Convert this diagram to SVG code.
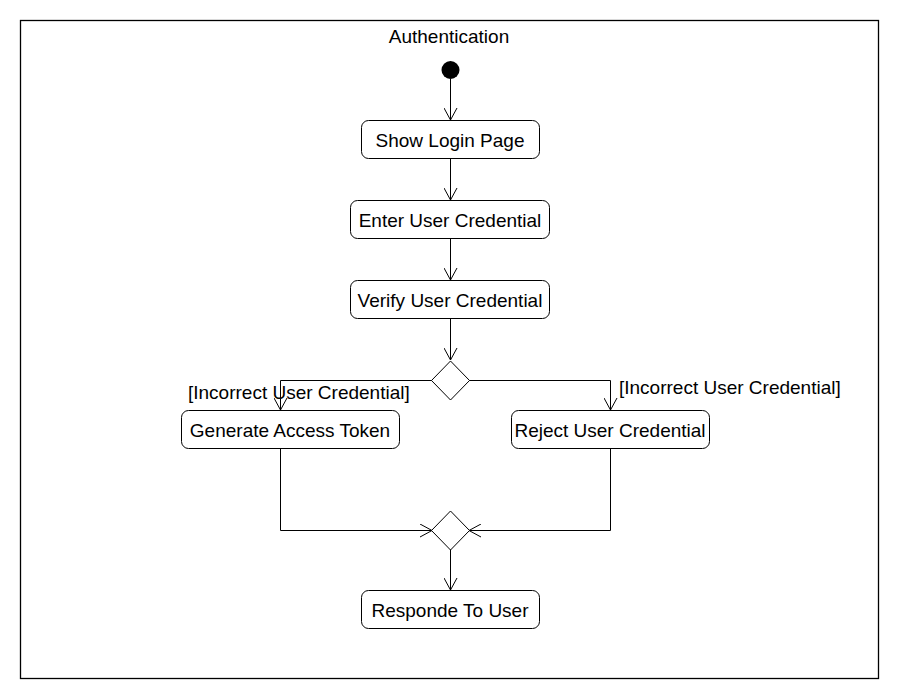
<svg xmlns="http://www.w3.org/2000/svg" width="900" height="700" viewBox="0 0 900 700">
<style>
text{font-family:"Liberation Sans",Arial,sans-serif;font-size:19px;fill:#000}
.c{text-anchor:middle}
.box{fill:#fff;stroke:#000;stroke-width:1}
.ln{fill:none;stroke:#000;stroke-width:1}
</style>
<defs>
<marker id="arr" viewBox="0 0 14 14" refX="13" refY="7" markerWidth="14" markerHeight="14" markerUnits="userSpaceOnUse" orient="auto">
<path d="M1,0.5 L13,7 L1,13.5" fill="none" stroke="#000" stroke-width="1"/>
</marker>
</defs>
<rect x="0" y="0" width="900" height="700" fill="#fff"/>
<rect x="20.5" y="20.5" width="858" height="658" fill="none" stroke="#000" stroke-width="1.3"/>
<text class="c" x="449" y="43">Authentication</text>
<g id="connectors">
<path class="ln" d="M450.5,79 V120" marker-end="url(#arr)"/>
<path class="ln" d="M450.5,159 V200" marker-end="url(#arr)"/>
<path class="ln" d="M450.5,239 V280" marker-end="url(#arr)"/>
<path class="ln" d="M450.5,319 V360" marker-end="url(#arr)"/>
<path class="ln" d="M432,380.5 H280.5 V410" marker-end="url(#arr)"/>
<path class="ln" d="M469,380.5 H610.5 V410" marker-end="url(#arr)"/>
<path class="ln" d="M280.5,449 V530.5 H432" marker-end="url(#arr)"/>
<path class="ln" d="M610.5,449 V530.5 H469" marker-end="url(#arr)"/>
<path class="ln" d="M450.5,549 V590" marker-end="url(#arr)"/>
<text x="188" y="399">[Incorrect User Credential]</text>
<text x="619" y="394">[Incorrect User Credential]</text>
</g>
<g id="start"><circle cx="450.5" cy="70" r="9" fill="#000"/></g>
<g id="showLogin"><rect class="box" x="361.5" y="120.5" width="178" height="38" rx="7"/><text class="c" x="450" y="147">Show Login Page</text></g>
<g id="enterCred"><rect class="box" x="350.5" y="200.5" width="199" height="38" rx="7"/><text class="c" x="450" y="227">Enter User Credential</text></g>
<g id="verifyCred"><rect class="box" x="350.5" y="280.5" width="199" height="38" rx="7"/><text class="c" x="450" y="307">Verify User Credential</text></g>
<g id="decision"><path class="box" d="M450.5,361 L469.5,380.5 L450.5,400 L431.5,380.5 Z"/></g>
<g id="genToken"><rect class="box" x="181.5" y="410.5" width="218" height="38" rx="7"/><text class="c" x="290" y="437">Generate Access Token</text></g>
<g id="rejectCred"><rect class="box" x="511.5" y="410.5" width="198" height="38" rx="7"/><text class="c" x="610" y="437">Reject User Credential</text></g>
<g id="merge"><path class="box" d="M450.5,511 L469.5,530.5 L450.5,550 L431.5,530.5 Z"/></g>
<g id="respond"><rect class="box" x="361.5" y="590.5" width="178" height="38" rx="7"/><text class="c" x="450" y="617">Responde To User</text></g>
</svg>
